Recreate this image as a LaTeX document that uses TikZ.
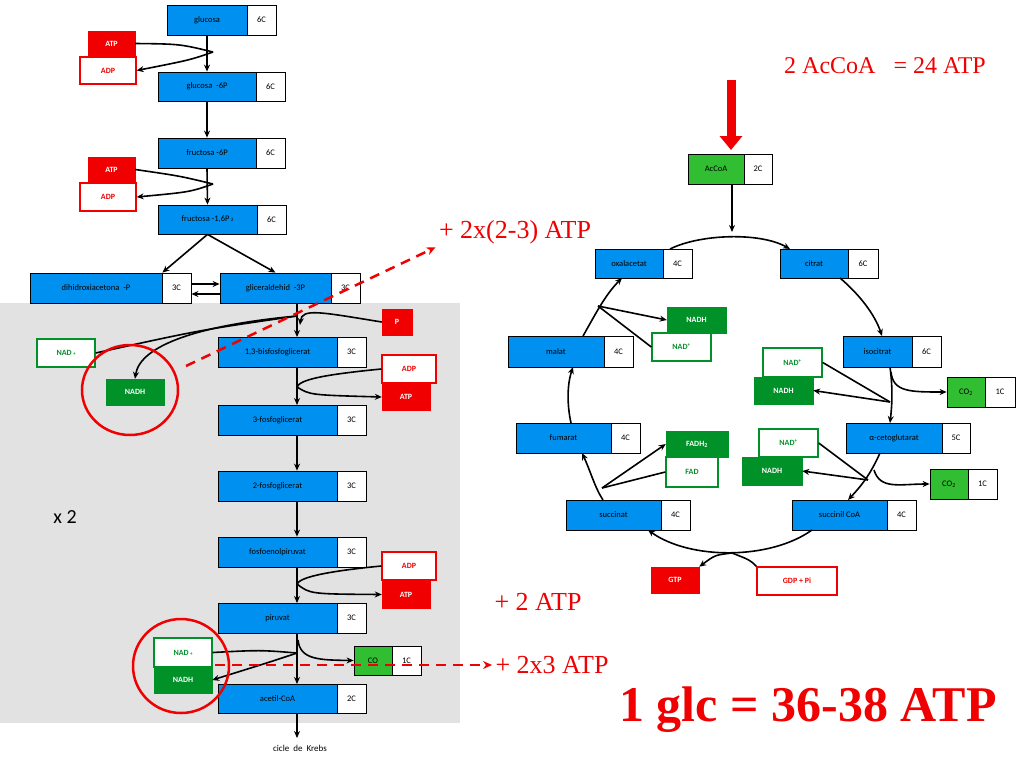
\documentclass[tikz,border=0pt]{standalone}
\usepackage{fontspec}
\setmainfont{Carlito}
\newfontfamily\arialf{Liberation Sans}
\newfontfamily\timesf{Liberation Serif}
\usetikzlibrary{arrows.meta}
\definecolor{bl}{RGB}{0,145,240}
\definecolor{gr}{RGB}{0,145,40}
\definecolor{lg}{RGB}{50,190,50}
\definecolor{rd}{RGB}{240,0,0}
\definecolor{gy}{RGB}{226,226,226}
\tikzset{
 bx/.style={draw=black,line width=0.8pt,inner sep=0pt,font=\fontsize{8.5}{9}\selectfont},
 ln/.style={line width=1.6pt,black},
 ar/.style={ln,-{Stealth[length=7pt,width=6pt]}},
 red/.style={text=rd,font=\timesf\fontsize{26}{28}\selectfont},
 rf/.style={fill=rd,draw=rd,text=white,font=\bfseries\fontsize{8}{9}\selectfont},
 ro/.style={fill=white,draw=rd,line width=1.4pt,text=rd,font=\bfseries\fontsize{8}{9}\selectfont},
 gf/.style={fill=gr,draw=gr,text=white,font=\bfseries\fontsize{8}{9}\selectfont},
 go/.style={fill=white,draw=gr,line width=1.4pt,text=gr,font=\bfseries\fontsize{8}{9}\selectfont},
}
% pair box: name, x1, x2, x3, y1, y2, label, num, fill
\newcommand\pbx[9]{%
 \node[bx,fill=#9,minimum width={(#3-#2)*1pt},minimum height={(#6-#5)*1pt}] (#1) at ({(#2+#3)/2},{(#5+#6)/2}) {#7};
 \node[bx,fill=white,minimum width={(#4-#3)*1pt},minimum height={(#6-#5)*1pt}] (#1n) at ({(#3+#4)/2},{(#5+#6)/2}) {#8};}
% single box: name, x1,x2,y1,y2,text,style
\newcommand\sbx[7]{%
 \node[#7,inner sep=0pt,minimum width={(#3-#2)*1pt},minimum height={(#5-#4)*1pt}] (#1) at ({(#2+#3)/2},{(#4+#5)/2}) {#6};}
\begin{document}
\begin{tikzpicture}[x=1pt,y=-1pt]
\useasboundingbox (0,0) rectangle (1024,768);
\fill[white] (0,0) rectangle (1024,768);
\fill[gy] (0,303) rectangle (460,723);
% glycolysis
\pbx{g1}{167}{247}{276}{5}{35}{glucosa}{6C}{bl}
\pbx{g2}{158}{256}{285}{72}{101}{glucosa\ \ -6P}{6C}{bl}
\pbx{g3}{158}{256}{285}{138}{168}{fructosa -6P}{6C}{bl}
\pbx{g4}{158}{257}{286}{205}{234}{fructosa -1,6P\,{\tiny 2}}{6C}{bl}
\pbx{dh}{30}{162}{191}{273}{303}{dihidroxiacetona\ \ -P}{3C}{bl}
\pbx{g5}{220}{331}{360}{273}{303}{gliceraldehid\ \ -3P}{3C}{bl}
\pbx{g6}{218}{337}{366}{337}{367}{1,3-bisfosfoglicerat}{3C}{bl}
\pbx{g7}{218}{337}{366}{405}{435}{3-fosfoglicerat}{3C}{bl}
\pbx{g8}{218}{337}{366}{471}{501}{2-fosfoglicerat}{3C}{bl}
\pbx{g9}{218}{337}{366}{537}{567}{fosfoenolpiruvat}{3C}{bl}
\pbx{g10}{218}{337}{366}{603}{633}{piruvat}{3C}{bl}
\pbx{g11}{218}{337}{366}{684}{713}{acetil-CoA}{2C}{bl}
\pbx{co}{354}{392}{421}{646}{675}{CO}{1C}{lg}
\node[font=\fontsize{9}{10}\selectfont] (kr) at (300,748) {cicle\ \ de\ \ Krebs};
\node[font=\fontsize{20}{22}\selectfont] (x2) at (65,517) {x 2};
\sbx{atp1}{88}{135}{31}{56}{ATP}{rf}
\sbx{adp1}{80}{136}{57}{84}{ADP}{ro}
\sbx{atp2}{88}{135}{157}{182}{ATP}{rf}
\sbx{adp2}{80}{136}{183}{211}{ADP}{ro}
\sbx{p}{382}{412}{309}{335}{P}{rf}
\sbx{nad1}{37}{95}{339}{367}{NAD\,{\tiny +}}{go}
\sbx{nadh1}{106}{164}{379}{405}{NADH}{gf}
\sbx{adp3}{382}{436}{355}{383}{ADP}{ro}
\sbx{atp3}{382}{430}{384}{410}{ATP}{rf}
\sbx{adp4}{382}{436}{552}{580}{ADP}{ro}
\sbx{atp4}{382}{430}{581}{608}{ATP}{rf}
\sbx{nad2}{154}{212}{638}{667}{NAD\,{\tiny +}}{go}
\sbx{nadh2}{154}{212}{667}{693}{NADH}{gf}
% glycolysis arrows
\draw[ar] (g1.south) -- (g2.north);
\draw[ar] (g2.south) -- (g3.north);
\draw[ar] (g3.south) -- (g4.north);
\coordinate (j1) at (213,52); \coordinate (j2) at (213,184);
\draw[ln] (atp1.east) .. controls (180,44) .. (j1);
\draw[ar] (j1) .. controls (190,60) .. (adp1.east);
\draw[ln] (atp2.east) .. controls (180,176) .. (j2);
\draw[ar] (j2) .. controls (190,192) .. (adp2.east);
\draw[ar] (g4.south) -- (dh.north east);
\draw[ar] (g4.south) -- (g5.north);
\draw[ar] (dhn.east |- 0,284) -- (g5.west |- 0,284);
\draw[ar] (g5.west |- 0,294) -- (dhn.east |- 0,294);
\draw[ar] (297,303) -- (297,337);
\coordinate (j3) at (297,316);
\draw[ar] (p.west) .. controls (320,312) and (302,308) .. (300,325);
\draw[ln] (nad1.east) .. controls (200,330) .. (j3);
\draw[ar] (j3) .. controls (200,325) and (140,345) .. (nadh1.north);
\draw[ar] (297,367) -- (297,405);
\coordinate (j4) at (297,387);
\draw[ln] (adp3.west) .. controls (320,375) and (300,380) .. (j4);
\draw[ar] (j4) .. controls (310,395) .. (atp3.west);
\draw[ar] (g7.south -| 297,0) -- (g8.north -| 297,0);
\draw[ar] (g8.south -| 297,0) -- (g9.north -| 297,0);
\draw[ar] (297,567) -- (297,603);
\coordinate (j5) at (297,584);
\draw[ln] (adp4.west) .. controls (320,572) and (300,578) .. (j5);
\draw[ar] (j5) .. controls (310,594) .. (atp4.west);
\draw[ar] (297,633) -- (297,684);
\coordinate (j6) at (297,653);
\draw[ln] (nad2.east) .. controls (260,650) .. (j6);
\draw[ar] (j6) .. controls (270,662) .. (nadh2.east);
\draw[ar] (298,640) .. controls (300,660) and (320,660) .. (co.west);
\draw[ar] (297,713) -- (297,738);
\draw[rd,line width=2.5pt] (130,390) ellipse (48 and 45);
\draw[rd,line width=2.5pt] (181,666) ellipse (48 and 47);
% Krebs
\pbx{ac}{688}{744}{772}{154}{184}{AcCoA}{2C}{lg}
\pbx{ox}{595}{663}{692}{249}{278}{oxalacetat}{4C}{bl}
\pbx{ci}{780}{848}{878}{249}{278}{citrat}{6C}{bl}
\pbx{is}{843}{912}{941}{336}{367}{isocitrat}{6C}{bl}
\pbx{ak}{846}{942}{970}{423}{453}{α-cetoglutarat}{5C}{bl}
\pbx{sc}{792}{887}{916}{500}{530}{succinil CoA}{4C}{bl}
\pbx{su}{566}{661}{690}{500}{530}{succinat}{4C}{bl}
\pbx{fu}{516}{611}{640}{423}{453}{fumarat}{4C}{bl}
\pbx{ma}{508}{604}{633}{336}{367}{malat}{4C}{bl}
\pbx{c1}{947}{985}{1015}{377}{407}{CO\textsubscript{2}}{1C}{lg}
\pbx{c2}{930}{968}{997}{469}{499}{CO\textsubscript{2}}{1C}{lg}
\foreach \n in {ac,ox,ci,is,ak,sc,su,fu,ma,c1,c2}{\node[font=\arialf\fontsize{8.5}{9}\selectfont] at (\n) {};}
\sbx{kn1}{667}{726}{307}{333}{NADH}{gf}
\sbx{ko1}{652}{711}{333}{361}{NAD\textsuperscript{\tiny+}}{go}
\sbx{ko2}{763}{822}{348}{377}{NAD\textsuperscript{\tiny+}}{go}
\sbx{kn2}{754}{813}{377}{404}{NADH}{gf}
\sbx{fh}{666}{728}{431}{457}{FADH\textsubscript{2}}{gf}
\sbx{fa}{666}{718}{457}{487}{FAD}{go}
\sbx{ko3}{759}{818}{429}{457}{NAD\textsuperscript{\tiny+}}{go}
\sbx{kn3}{742}{802}{457}{485}{NADH}{gf}
\sbx{gtp}{651}{699}{567}{593}{GTP}{rf}
\sbx{gdp}{757}{837}{567}{595}{GDP + Pi}{ro}
\draw[ar] (ac.south -| 732,0) -- (732,232);
\draw[ar] (670,249) .. controls (700,234) and (760,232) .. (790,249);
\draw[ar] (840,278) .. controls (860,295) and (875,315) .. (882,336);
\draw[ar] (890,367) .. controls (893,390) and (892,405) .. (890,423);
\draw[ar] (880,453) .. controls (870,475) and (862,485) .. (848,500);
\draw[ar] (812,530) .. controls (770,560) and (690,560) .. (648,530);
\draw[ar] (603,500) .. controls (595,488) and (590,470) .. (582,453);
\draw[ar] (571,423) .. controls (567,405) and (567,385) .. (573,367);
\draw[ar] (583,336) .. controls (595,315) and (605,295) .. (622,278);
\coordinate (k1) at (598,306); \coordinate (k2) at (890,402);
\coordinate (k3) at (868,480); \coordinate (k4) at (602,488); \coordinate (k5) at (732,553);
\draw[ln] (ko1.west) -- (k1);
\draw[ar] (k1) -- (kn1.west);
\draw[ln] (ko2.east) -- (k2);
\draw[ar] (k2) -- (kn2.east);
\draw[ar] (891,372) .. controls (893,392) and (910,392) .. (c1.west);
\draw[ln] (ko3.east) -- (k3);
\draw[ar] (k3) -- (kn3.east);
\draw[ar] (874,470) .. controls (880,490) and (900,484) .. (c2.west);
\draw[ln] (fa.west) -- (k4);
\draw[ar] (k4) -- (fh.west);
\draw[ln] (gdp.north west) .. controls (750,560) .. (k5);
\draw[ar] (k5) .. controls (715,555) .. (gtp.north east);
% red annotations
\draw[rd,line width=9pt,-{Triangle[length=14pt,width=22pt]}] (731,80) -- (731,150);
\node[red,font=\timesf\fontsize{24}{26}\selectfont] (t1) at (885,66) {2 AcCoA\ \ \ = 24 ATP};
\node[red] (t2) at (515,232) {+ 2x(2-3) ATP};
\node[red] (t3) at (538,602) {+ 2 ATP};
\node[red] (t4) at (552,665) {+ 2x3 ATP};
\node[text=rd,font=\timesf\bfseries\fontsize{50}{52}\selectfont] (t5) at (808,710) {1 glc = 36-38 ATP};
\draw[rd,line width=2.5pt,dash pattern=on 10pt off 7pt,-{Stealth[length=9pt,width=8pt]}] (186,366) -- (t2.south west);
\draw[rd,line width=2.5pt,dash pattern=on 10pt off 7pt,-{Stealth[length=9pt,width=8pt]}] (215,665) -- (t4.west);
\end{tikzpicture}
\end{document}
